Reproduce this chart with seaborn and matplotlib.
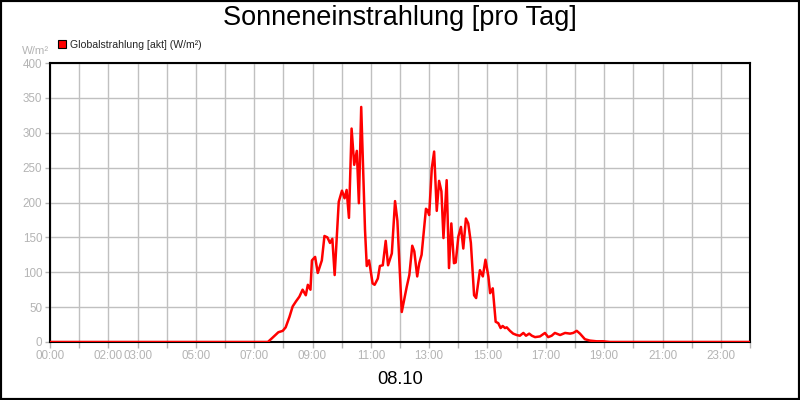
import matplotlib
matplotlib.use("Agg")
import matplotlib.pyplot as plt
from matplotlib.patches import Patch, Rectangle
import seaborn as sns
import pandas as pd

# ---- data (hours of day, W/m²) ----
hours = [0.0, 7.47, 7.60, 7.83, 7.98, 8.08, 8.21, 8.32, 8.43, 8.55, 8.66, 8.77, 8.84,
         8.93, 8.98, 9.09, 9.18, 9.32, 9.41, 9.51, 9.60, 9.68, 9.76, 9.90, 10.01, 10.10,
         10.17, 10.25, 10.34, 10.43, 10.52, 10.59, 10.67, 10.80, 10.86, 10.94, 11.06,
         11.13, 11.24, 11.31, 11.41, 11.51, 11.59, 11.72, 11.83, 11.91, 12.06, 12.23,
         12.32, 12.42, 12.49, 12.59, 12.66, 12.74, 12.89, 12.94, 13.00, 13.09, 13.17,
         13.26, 13.34, 13.42, 13.49, 13.60, 13.68, 13.76, 13.85, 13.91, 14.00, 14.09,
         14.17, 14.26, 14.34, 14.43, 14.54, 14.61, 14.74, 14.84, 14.93, 15.03, 15.09,
         15.18, 15.28, 15.37, 15.45, 15.52, 15.60, 15.66, 15.77, 15.88, 16.00, 16.11,
         16.23, 16.32, 16.43, 16.52, 16.63, 16.80, 16.97, 17.08, 17.20, 17.31, 17.49,
         17.66, 17.83, 17.94, 18.06, 18.17, 18.34, 18.51, 18.74, 18.96, 19.20, 24.0]
values = [0, 0, 5, 14, 16, 21, 36, 51, 58, 65, 75, 67, 82,
          75, 117, 122, 99, 117, 152, 150, 142, 148, 96, 201, 217, 206,
          218, 178, 306, 254, 274, 199, 337, 161, 109, 117, 84,
          82, 91, 109, 110, 145, 110, 127, 202, 174, 43, 79,
          96, 138, 130, 94, 113, 125, 191, 189, 182, 249, 273,
          188, 231, 216, 149, 232, 106, 170, 113, 114, 151, 165,
          134, 177, 170, 142, 67, 63, 103, 94, 118, 94, 70,
          77, 29, 27, 20, 23, 20, 21, 16, 12, 10, 9,
          13, 9, 12, 9, 7, 8, 13, 7, 9, 13, 10,
          13, 12, 13, 16, 12, 4, 2, 1, 1, 0, 0]

tick_hours = list(range(0, 25))
tick_labels = ["00:00", "", "02:00", "03:00", "", "05:00", "", "07:00", "", "09:00", "",
               "11:00", "", "13:00", "", "15:00", "", "17:00", "", "19:00", "", "21:00",
               "", "23:00", ""]
y_ticks = [0, 50, 100, 150, 200, 250, 300, 350, 400]

title = "Sonneneinstrahlung [pro Tag]"
date_label = "08.10"
series_name = "Globalstrahlung [akt] (W/m²)"
unit = "W/m²"

df = pd.DataFrame({"hour": hours, "value": values})

sns.set_style("white")
plt.rcParams["font.family"] = ["Liberation Sans", "DejaVu Sans"]

fig = plt.figure(figsize=(8, 4), dpi=100)
ax = fig.add_axes([0.0625, 0.145, 0.875, 0.6975])

grey = "#b4b4b4"
sns.lineplot(data=df, x="hour", y="value", color="#ff0000", linewidth=1.8,
             ax=ax, legend=False, zorder=3)

ax.set_xlim(0, 24)
ax.set_ylim(0, 400)
ax.set_xticks(tick_hours)
ax.set_xticklabels(tick_labels)
ax.set_yticks(y_ticks)
ax.set_yticklabels([str(v) for v in y_ticks])
ax.set_xlabel("")
ax.set_ylabel("")
ax.grid(True, color="#c0c0c0", linewidth=1.0, zorder=0)
ax.set_axisbelow(True)
for s in ax.spines.values():
    s.set_color("black")
    s.set_linewidth(1.5)
ax.tick_params(axis="x", colors=grey, labelsize=8.4, length=4, width=1, pad=2,
               direction="out", bottom=True)
ax.tick_params(axis="y", colors=grey, labelsize=8.4, length=3.5, width=1, pad=2,
               direction="out", left=True)

fig.text(0.5, 0.955, title, ha="center", va="center", fontsize=19.5, color="black")
fig.text(0.5, 0.05, date_label, ha="center", va="center", fontsize=13.2, color="black")
fig.text(0.061, 0.872, unit, ha="right", va="center", fontsize=8.2, color=grey)

handle = Patch(facecolor="#ff0000", edgecolor="black", linewidth=0.8)
fig.legend(handles=[handle], labels=[series_name], loc="center left",
           bbox_to_anchor=(0.072, 0.888), frameon=False, fontsize=7.6,
           handlelength=0.75, handleheight=0.75, handletextpad=0.4, borderpad=0,
           borderaxespad=0)

fig.add_artist(Rectangle((0, 0), 1, 1, transform=fig.transFigure, fill=False,
                         edgecolor="black", linewidth=3))

fig.savefig("out.png", dpi=100, facecolor="white")
